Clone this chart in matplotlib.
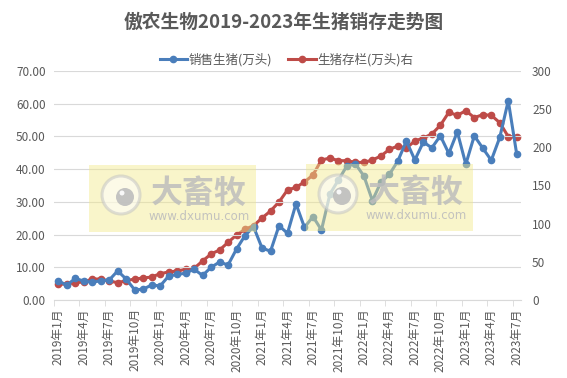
import matplotlib
matplotlib.use("Agg")
import matplotlib.pyplot as plt
from matplotlib.patches import Rectangle, Ellipse
from matplotlib.lines import Line2D
import numpy as np

plt.rcParams['font.family'] = ['Noto Sans CJK SC', 'DejaVu Sans']

title = "傲农生物2019-2023年生猪销存走势图"
sales_label = "销售生猪(万头)"
stock_label = "生猪存栏(万头)右"

months = []
for y in range(2019, 2024):
    for m in range(1, 13):
        if y == 2023 and m > 7:
            break
        months.append(f"{y}年{m}月")

sales = [5.9, 4.5, 6.6, 5.8, 5.4, 5.9, 6.1, 8.9, 6.4, 3.1,
         3.3, 4.6, 4.3, 7.3, 7.8, 8.2, 9.4, 7.5, 10.0, 11.6,
         10.7, 15.6, 19.7, 22.4, 15.9, 14.9, 22.7, 20.4, 29.4, 22.2,
         25.5, 21.4, 32.4, 36.7, 41.0, 41.6, 37.9, 30.4, 36.0, 38.4,
         42.5, 48.6, 42.8, 48.3, 46.5, 50.2, 44.8, 51.4, 41.5, 50.2,
         46.4, 42.7, 49.7, 60.9, 44.5]

stock = [20.5, 21.0, 22.7, 23.6, 27.5, 27.5, 24.9, 22.7, 25.3, 27.5,
         28.8, 30.1, 34.5, 36.7, 38.0, 40.2, 41.5, 51.1, 60.3, 65.5,
         75.5, 85.2, 92.6, 97.4, 107.4, 116.6, 128.4, 144.1, 147.6, 154.6,
         163.8, 183.4, 186.0, 182.5, 182.5, 180.3, 180.3, 183.4, 188.6, 197.4,
         201.7, 199.1, 208.3, 212.2, 217.5, 228.8, 245.9, 241.9, 248.0, 238.9,
         242.8, 241.9, 232.3, 214.0, 213.1]

W, H = 567, 378
fig = plt.figure(figsize=(W/100, H/100), dpi=100)
L, R, T, B = 54, 521, 71, 300
ax = fig.add_axes([L/W, 1-B/H, (R-L)/W, (B-T)/H])
ax2 = ax.twinx()

x = np.arange(len(months))
blue = '#4A7EBB'
red = '#BE4B48'
gray = '#595959'

ax.set_zorder(2)
ax.patch.set_visible(False)
ax.plot(x, sales, color=blue, lw=2.2, marker='o', ms=4.5, zorder=3)
ax2.plot(x, stock, color=red, lw=2.2, marker='o', ms=4.5, zorder=3)

ax.set_xlim(-0.5, len(months)-0.5)
ax.set_ylim(0, 70)
ax2.set_ylim(0, 300)
ax.set_yticks(np.arange(0, 71, 10))
ax.set_yticklabels([f"{v:.2f}" for v in np.arange(0, 71, 10)])
ax2.set_yticks(np.arange(0, 301, 50))
ax.grid(axis='y', color='#D9D9D9', lw=0.8)
ax.set_axisbelow(True)

ax.set_xticks(x[::3])
ax.set_xticklabels(months[::3], rotation=90)
ax.set_xticks(np.arange(-0.5, len(months), 3), minor=True)
ax.tick_params(axis='x', which='major', length=0, pad=6, labelsize=8.5, colors=gray)
ax.tick_params(axis='x', which='minor', length=4, color='#D9D9D9')
ax.tick_params(axis='y', length=0, labelsize=8.5, colors=gray, pad=6)
ax2.tick_params(axis='y', length=0, labelsize=8.5, colors=gray, pad=8)

for a in (ax, ax2):
    for s in ('top', 'left', 'right', 'bottom'):
        a.spines[s].set_visible(False)
ax.spines['bottom'].set_visible(True)
ax.spines['bottom'].set_color('#D9D9D9')

fig.text(0.5, 1-22/H, title, ha='center', va='center', fontsize=13.5,
         fontweight='bold', color=gray)

# legend
h1 = Line2D([], [], color=blue, lw=2.2, marker='o', ms=4.5)
h2 = Line2D([], [], color=red, lw=2.2, marker='o', ms=4.5)
fig.legend([h1, h2], [sales_label, stock_label], loc='center',
           bbox_to_anchor=(0.505, 1-60/H), ncol=2, frameon=False,
           fontsize=9, handlelength=2.2, columnspacing=1.3, handletextpad=0.1,
           labelcolor=gray)

# watermarks
for (x0, y0) in [(89, 165), (306, 164)]:
    w, h = 167, 67
    fig.patches.append(Rectangle((x0/W, 1-(y0+h)/H), w/W, h/H,
                                 transform=fig.transFigure, facecolor='#F3E98A',
                                 alpha=0.45, edgecolor='none', zorder=10))
    cx, cy = x0+32, y0+30
    fig.patches.append(Ellipse((cx/W, 1-cy/H), 38/W, 38/H, transform=fig.transFigure,
                               facecolor='#FFFFFF', alpha=0.55, edgecolor='#C4C4C4',
                               lw=2.2, zorder=11))
    fig.patches.append(Ellipse(((cx+4)/W, 1-(cy+2)/H), 18/W, 18/H, transform=fig.transFigure,
                               facecolor='#BDBDBD', alpha=0.9, edgecolor='none', zorder=12))
    fig.patches.append(Ellipse(((cx+1)/W, 1-(cy-2)/H), 5/W, 5/H, transform=fig.transFigure,
                               facecolor='#FFFFFF', alpha=0.9, edgecolor='none', zorder=13))
    fig.text((x0+110)/W, 1-(y0+29)/H, "大畜牧", ha='center', va='center',
             fontsize=23, fontweight='bold', color='#BDBDBD', alpha=0.85, zorder=12)
    fig.text((x0+110)/W, 1-(y0+51)/H, "www.dxumu.com", ha='center', va='center',
             fontsize=8.5, color='#BDBDBD', alpha=0.9, zorder=12,
             family='DejaVu Sans')

fig.savefig("out.png", dpi=100)
